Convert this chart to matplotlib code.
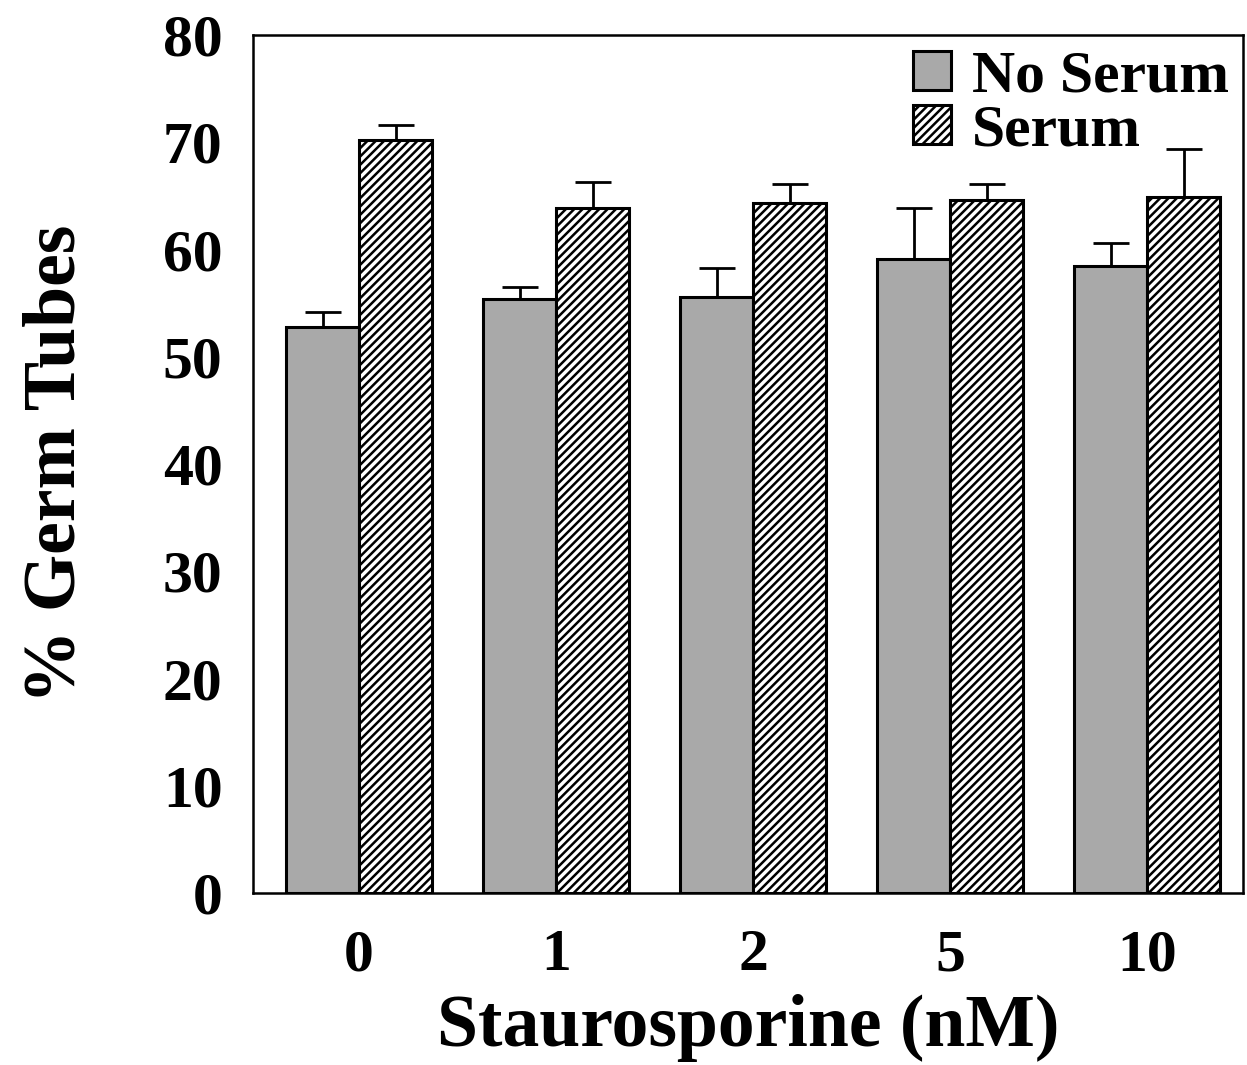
import numpy as np
import matplotlib.pyplot as plt

plt.rcParams['font.family'] = ['Liberation Serif', 'DejaVu Serif']
plt.rcParams['font.weight'] = 'bold'
plt.rcParams['axes.labelweight'] = 'bold'
plt.rcParams['hatch.linewidth'] = 1.8

# Data
doses = ['0', '1', '2', '5', '10']
no_serum = [52.8, 55.4, 55.6, 59.1, 58.5]
no_serum_err = [1.4, 1.1, 2.7, 4.8, 2.1]
serum = [70.2, 63.9, 64.3, 64.6, 64.9]
serum_err = [1.4, 2.4, 1.8, 1.5, 4.5]

x = np.arange(len(doses))
w = 0.37

fig = plt.figure(figsize=(12.47, 10.65), dpi=100)
ax = fig.add_axes([0.203, 0.1615, 0.794, 0.8055])

ax.bar(x - w / 2, no_serum, w, color='#a9a9a9', edgecolor='black',
       linewidth=2.2, label='No Serum', zorder=2)
ax.bar(x + w / 2, serum, w, color='white', edgecolor='black', hatch='////',
       linewidth=2.2, label='Serum', zorder=2)

ekw = dict(fmt='none', ecolor='black', elinewidth=2.0, capsize=13,
           capthick=2.0, zorder=1)
ax.errorbar(x - w / 2, no_serum, yerr=[np.zeros(len(x)), no_serum_err], **ekw)
ax.errorbar(x + w / 2, serum, yerr=[np.zeros(len(x)), serum_err], **ekw)

ax.set_xlim(-0.538, 4.487)
ax.set_ylim(0, 80)
ax.set_yticks(np.arange(0, 81, 10))
ax.set_xticks(x)
ax.set_xticklabels(doses)
ax.tick_params(length=0, labelsize=43, pad=22)
ax.tick_params(axis='x', pad=26)
for s in ax.spines.values():
    s.set_linewidth(1.8)

ax.set_xlabel('Staurosporine (nM)', fontsize=53, labelpad=8)
ax.set_ylabel('% Germ Tubes', fontsize=53, labelpad=52)

ax.legend(loc='upper right', bbox_to_anchor=(1.01, 1.01), frameon=False,
          fontsize=43, handlelength=0.64, handleheight=0.64,
          handletextpad=0.35, labelspacing=0.0, borderaxespad=0.0)

fig.savefig('out.png', dpi=100)
